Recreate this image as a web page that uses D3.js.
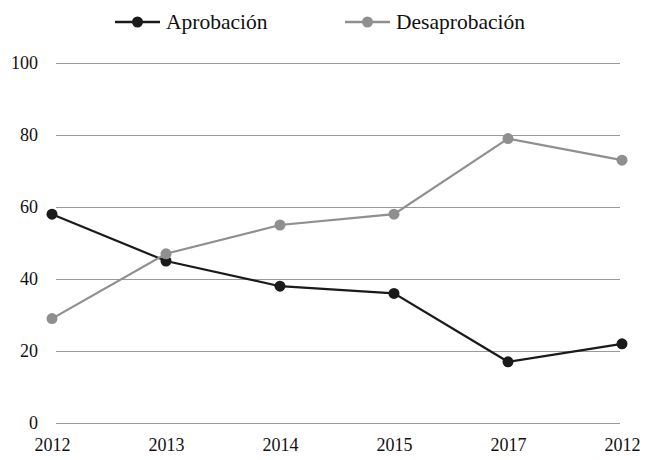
<!DOCTYPE html>
<html>
<head>
<meta charset="utf-8">
<script src="https://cdn.jsdelivr.net/npm/d3@7"></script>
<style>
  body { margin: 0; background: #fff; }
</style>
</head>
<body>
<div id="chart"></div>
<script>
// data
var categories = ["2012", "2013", "2014", "2015", "2017", "2012"];
var aprobacion = [58, 45, 38, 36, 17, 22];
var desaprobacion = [29, 47, 55, 58, 79, 73];
var yTicks = [0, 20, 40, 60, 80, 100];
var seriesNames = ["Aprobación", "Desaprobación"];

var width = 650, height = 460;
var gridLeft = 56, gridRight = 620;
var serif = "'Liberation Serif', 'DejaVu Serif', serif";

var svg = d3.select("#chart").append("svg")
    .attr("width", width).attr("height", height);

var xScale = d3.scalePoint()
    .domain(d3.range(categories.length))
    .range([52, 622]);

var yScale = d3.scaleLinear()
    .domain([0, 100])
    .range([423, 63]);

// y axis + gridlines
var yAxis = svg.append("g")
    .attr("transform", "translate(" + gridLeft + ",0)")
    .call(d3.axisLeft(yScale).tickValues(yTicks)
        .tickSize(-(gridRight - gridLeft)).tickPadding(18));
yAxis.select(".domain").remove();
yAxis.selectAll(".tick line").attr("stroke", "#9a9a9a").attr("stroke-width", 1.2);
yAxis.selectAll(".tick text")
    .style("font-family", serif).style("font-size", "18px").attr("fill", "#111");

// x axis labels
var xAxis = svg.append("g")
    .attr("transform", "translate(0," + yScale(0) + ")")
    .call(d3.axisBottom(xScale).tickSize(0).tickPadding(15)
        .tickFormat(function(i) { return categories[i]; }));
xAxis.select(".domain").remove();
xAxis.selectAll(".tick text")
    .style("font-family", serif).style("font-size", "18px").attr("fill", "#111");

var series = [
    { name: seriesNames[0], values: aprobacion, color: "#1a1a1a" },
    { name: seriesNames[1], values: desaprobacion, color: "#8f8f8f" }
];

var line = d3.line()
    .x(function(d, i) { return xScale(i); })
    .y(function(d) { return yScale(d); });

series.forEach(function(s) {
    svg.append("path")
        .datum(s.values)
        .attr("fill", "none")
        .attr("stroke", s.color)
        .attr("stroke-width", 2.2)
        .attr("d", line);
    svg.selectAll(null)
        .data(s.values)
        .enter().append("circle")
        .attr("cx", function(d, i) { return xScale(i); })
        .attr("cy", function(d) { return yScale(d); })
        .attr("r", 5.5)
        .attr("fill", s.color);
});

// legend
var legendX = [115, 345];
series.forEach(function(s, i) {
    var g = svg.append("g").attr("transform", "translate(" + legendX[i] + ",22)");
    g.append("line").attr("x1", 0).attr("x2", 45).attr("y1", 0).attr("y2", 0)
        .attr("stroke", s.color).attr("stroke-width", 2.5);
    g.append("circle").attr("cx", 22.5).attr("cy", 0).attr("r", 5.5).attr("fill", s.color);
    g.append("text").attr("x", 51).attr("y", 7)
        .style("font-family", serif).style("font-size", "21.5px").attr("fill", "#111")
        .text(s.name);
});
</script>
</body>
</html>
